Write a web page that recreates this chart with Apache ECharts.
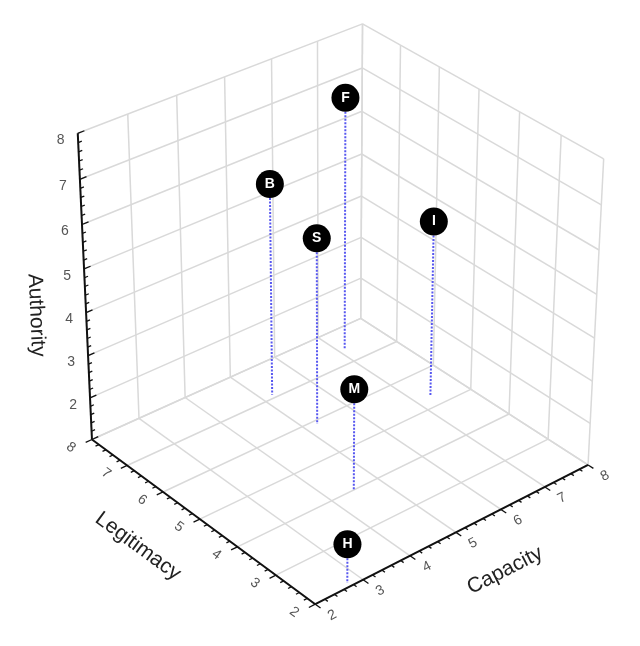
<!DOCTYPE html>
<html>
<head>
<meta charset="utf-8">
<script src="https://cdn.jsdelivr.net/npm/echarts@6/dist/echarts.min.js"></script>
<style>
  html, body { margin: 0; padding: 0; background: #fff; }
  #chart { width: 640px; height: 646px; }
</style>
</head>
<body>
<div id="chart"></div>
<script>
// points
var names = ['B', 'F', 'S', 'I', 'M', 'H'];
var capacity = [5.22, 7.12, 5.25, 7.32, 4.48, 2.75];
var legitimacy = [7.1, 7.4, 5.9, 5.3, 4.0, 2.1];
var authority = [5.97, 6.97, 5.37, 5.15, 3.37, 1.9];

// axes
var capacityTicks = [2, 3, 4, 5, 6, 7, 8];
var legitimacyTicks = [2, 3, 4, 5, 6, 7, 8];
var authorityTicks = [2, 3, 4, 5, 6, 7, 8];
var capRange = [2, 8];
var legRange = [2, 8];
var authRange = [1, 8];

// where the unit box corners land on screen: [u, v, w, x, y]
// u = capacity, v = legitimacy, w = authority
var boxCorners = [
  [0, 0, 0, 315, 604],
  [1, 0, 0, 588, 465],
  [0, 1, 0, 92, 440],
  [1, 1, 0, 361, 318],
  [0, 1, 1, 78, 133],
  [1, 1, 1, 362, 24],
  [1, 0, 1, 604, 159]
];

// fit a perspective 3x4 camera matrix to the corners (least squares)
function fitProjection(pairs) {
  var n = 11, M = [], r = [];
  for (var i = 0; i < n; i++) { M.push(new Array(n).fill(0)); r.push(0); }
  pairs.forEach(function (p) {
    var X = p[0], Y = p[1], Z = p[2], x = p[3], y = p[4];
    var rows = [
      [[X, Y, Z, 1, 0, 0, 0, 0, -x * X, -x * Y, -x * Z], x],
      [[0, 0, 0, 0, X, Y, Z, 1, -y * X, -y * Y, -y * Z], y]
    ];
    rows.forEach(function (row) {
      var a = row[0];
      for (var i = 0; i < n; i++) {
        r[i] += a[i] * row[1];
        for (var j = 0; j < n; j++) M[i][j] += a[i] * a[j];
      }
    });
  });
  for (var c = 0; c < n; c++) {
    var piv = c;
    for (var k = c + 1; k < n; k++) if (Math.abs(M[k][c]) > Math.abs(M[piv][c])) piv = k;
    var t = M[c]; M[c] = M[piv]; M[piv] = t;
    t = r[c]; r[c] = r[piv]; r[piv] = t;
    for (var k2 = c + 1; k2 < n; k2++) {
      var f = M[k2][c] / M[c][c];
      for (var j = c; j < n; j++) M[k2][j] -= f * M[c][j];
      r[k2] -= f * r[c];
    }
  }
  var p = new Array(n);
  for (var c2 = n - 1; c2 >= 0; c2--) {
    var s = r[c2];
    for (var j2 = c2 + 1; j2 < n; j2++) s -= M[c2][j2] * p[j2];
    p[c2] = s / M[c2][c2];
  }
  return p;
}

var P = fitProjection(boxCorners);

function proj(u, v, w) {
  var d = P[8] * u + P[9] * v + P[10] * w + 1;
  return [
    (P[0] * u + P[1] * v + P[2] * w + P[3]) / d,
    (P[4] * u + P[5] * v + P[6] * w + P[7]) / d
  ];
}

function nu(c) { return (c - capRange[0]) / (capRange[1] - capRange[0]); }
function nv(l) { return (l - legRange[0]) / (legRange[1] - legRange[0]); }
function nw(a) { return (a - authRange[0]) / (authRange[1] - authRange[0]); }

function seg(a, b, style) {
  return { type: 'line', shape: { x1: a[0], y1: a[1], x2: b[0], y2: b[1] }, style: style };
}

function label(pt, text, rot, font, fill) {
  return {
    type: 'text', x: pt[0], y: pt[1], rotation: rot,
    style: {
      text: text, font: font, fill: fill,
      align: 'center', verticalAlign: 'middle',
      textAlign: 'center', textVerticalAlign: 'middle'
    }
  };
}

function angleOf(a, b) { return -Math.atan2(b[1] - a[1], b[0] - a[0]); }

var gridStyle = { stroke: '#d9d9d9', lineWidth: 1.5 };
var axisStyle = { stroke: '#111', lineWidth: 2 };
var tickFont = '14px "Liberation Sans", Arial, sans-serif';
var titleFont = '21px "Liberation Sans", Arial, sans-serif';

function renderFrame() {
  var ch = [];
  var authLevels = [authRange[0]].concat(authorityTicks);

  // floor
  capacityTicks.forEach(function (c) { ch.push(seg(proj(nu(c), 0, 0), proj(nu(c), 1, 0), gridStyle)); });
  legitimacyTicks.forEach(function (l) { ch.push(seg(proj(0, nv(l), 0), proj(1, nv(l), 0), gridStyle)); });
  // left wall (legitimacy = max)
  capacityTicks.forEach(function (c) { ch.push(seg(proj(nu(c), 1, 0), proj(nu(c), 1, 1), gridStyle)); });
  authLevels.forEach(function (a) { ch.push(seg(proj(0, 1, nw(a)), proj(1, 1, nw(a)), gridStyle)); });
  // right wall (capacity = max)
  legitimacyTicks.forEach(function (l) { ch.push(seg(proj(1, nv(l), 0), proj(1, nv(l), 1), gridStyle)); });
  authLevels.forEach(function (a) { ch.push(seg(proj(1, 0, nw(a)), proj(1, 1, nw(a)), gridStyle)); });

  // axis lines
  ch.push(seg(proj(0, 0, 0), proj(0, 1, 0), axisStyle));
  ch.push(seg(proj(0, 0, 0), proj(1, 0, 0), axisStyle));
  ch.push(seg(proj(0, 1, 0), proj(0, 1, 1), axisStyle));

  // ticks (major at integers, 4 minor between)
  var tickStyle = { stroke: '#111', lineWidth: 1.3 };
  function ticks(range, fn) {
    for (var k = 0; k <= (range[1] - range[0]) * 5; k++) {
      var major = k % 5 === 0;
      fn(range[0] + k / 5, major ? 0.022 : 0.012);
    }
  }
  ticks(legRange, function (l, len) { ch.push(seg(proj(0, nv(l), 0), proj(-len, nv(l), 0), tickStyle)); });
  ticks(capRange, function (c, len) { ch.push(seg(proj(nu(c), 0, 0), proj(nu(c), -len, 0), tickStyle)); });
  ticks(authRange, function (a, len) { ch.push(seg(proj(0, 1, nw(a)), proj(len, 1, nw(a)), tickStyle)); });

  // tick labels
  var legRot = angleOf(proj(0, 0, 0), proj(0, 1, 0)) + Math.PI;
  var capRot = angleOf(proj(0, 0, 0), proj(1, 0, 0));
  legitimacyTicks.forEach(function (l) {
    var p = proj(0, nv(l), 0);
    ch.push(label([p[0] - 21, p[1] + 8], String(l), legRot, tickFont, '#555'));
  });
  capacityTicks.forEach(function (c) {
    var p = proj(nu(c), 0, 0);
    ch.push(label([p[0] + 17, p[1] + 11], String(c), capRot, tickFont, '#555'));
  });
  authorityTicks.forEach(function (a) {
    var p = proj(0, 1, nw(a));
    ch.push(label([p[0] - 17, p[1] + 7], String(a), 0, tickFont, '#555'));
  });

  // titles
  var lt = proj(0, 0.64, 0);
  ch.push(label([lt[0] - 31, lt[1] + 50], 'Legitimacy', legRot, titleFont, '#222'));
  var ct = proj(0.6, 0, 0);
  ch.push(label([ct[0] + 22, ct[1] + 52], 'Capacity', capRot, titleFont, '#222'));
  var at = proj(0, 1, 0.42);
  var authRot = angleOf(proj(0, 1, 1), proj(0, 1, 0));
  ch.push(label([at[0] - 50, at[1]], 'Authority', authRot, titleFont, '#222'));

  return { type: 'group', children: ch };
}

function renderPoint(params, api) {
  var u = nu(api.value(0)), v = nv(api.value(1)), w = nw(api.value(2));
  var top = proj(u, v, w);
  var foot = proj(u, v, 0);
  return {
    type: 'group',
    children: [
      seg(top, foot, { stroke: '#5757f0', lineWidth: 2, lineDash: [2, 1.5] }),
      { type: 'circle', shape: { cx: top[0], cy: top[1], r: 14 }, style: { fill: '#000' } },
      label(top, names[params.dataIndex], 0, 'bold 14px "Liberation Sans", Arial, sans-serif', '#fff')
    ]
  };
}

var pointData = names.map(function (n, i) { return [capacity[i], legitimacy[i], authority[i]]; });

var chart = echarts.init(document.getElementById('chart'), null, { renderer: 'canvas' });
chart.setOption({
  backgroundColor: '#fff',
  animation: false,
  series: [
    {
      type: 'custom',
      coordinateSystem: 'none',
      silent: true,
      data: [[0]],
      renderItem: renderFrame
    },
    {
      type: 'custom',
      coordinateSystem: 'none',
      silent: true,
      data: pointData,
      renderItem: renderPoint
    }
  ]
});
</script>
</body>
</html>
